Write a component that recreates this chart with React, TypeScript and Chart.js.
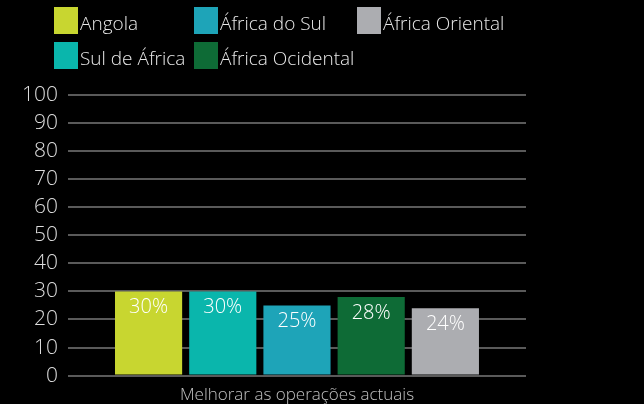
import React, { useEffect, useRef } from "react";
import { Chart, registerables } from "chart.js";

Chart.register(...registerables);

const categories = ["Melhorar as operações actuais"];
const seriesNames = ["Angola", "Sul de África", "África do Sul", "África Ocidental", "África Oriental"];
const seriesValues = [[30], [30], [25], [28], [24]];
const seriesColors = ["#c8d630", "#0ab6ac", "#1ea4b8", "#0e6b36", "#acadb1"];
const yTicks = { min: 0, max: 100, step: 10 };

const FONT = "'Open Sans', 'DejaVu Sans', sans-serif";

const legendPlugin = {
  id: "colLegend",
  afterDraw(chart: any) {
    const ctx = chart.ctx;
    const cols = [54, 194, 357];
    const rows = [7, 42];
    ctx.save();
    ctx.font = `300 19px ${FONT}`;
    ctx.textBaseline = "middle";
    ctx.textAlign = "left";
    chart.data.datasets.forEach((ds: any, i: number) => {
      const x = cols[Math.floor(i / 2)];
      const y = rows[i % 2];
      ctx.fillStyle = ds.backgroundColor;
      ctx.fillRect(x, y, 24, 27);
      ctx.fillStyle = "#e8e8e8";
      ctx.fillText(ds.label, x + 26, y + 18);
    });
    ctx.restore();
  },
};

const labelPlugin = {
  id: "barLabels",
  afterDatasetsDraw(chart: any) {
    const ctx = chart.ctx;
    ctx.save();
    ctx.font = `300 20px ${FONT}`;
    ctx.fillStyle = "#ffffff";
    ctx.textAlign = "center";
    ctx.textBaseline = "middle";
    chart.data.datasets.forEach((ds: any, i: number) => {
      const meta = chart.getDatasetMeta(i);
      meta.data.forEach((bar: any, j: number) => {
        ctx.fillText(ds.data[j] + "%", bar.x, bar.y + 16);
      });
    });
    ctx.restore();
  },
};

export default function App() {
  const ref = useRef<HTMLCanvasElement>(null);
  useEffect(() => {
    document.body.style.margin = "0";
    document.body.style.background = "#000";
    const chart = new Chart(ref.current!, {
      type: "bar",
      data: {
        labels: categories,
        datasets: seriesNames.map((name, i) => ({
          label: name,
          data: seriesValues[i],
          backgroundColor: seriesColors[i],
          borderWidth: 0,
          categoryPercentage: 0.81,
          barPercentage: 0.905,
        })),
      },
      options: {
        animation: false,
        responsive: false,
        maintainAspectRatio: false,
        layout: { padding: { top: 95, left: 12, right: 118, bottom: -2 } },
        plugins: {
          legend: { display: false },
          tooltip: { enabled: false },
        },
        scales: {
          x: {
            grid: { display: false },
            border: { display: false },
            ticks: { color: "#c0c0c0", font: { family: FONT, size: 17, weight: "300" as any }, padding: 1 },
          },
          y: {
            min: yTicks.min,
            max: yTicks.max,
            ticks: {
              stepSize: yTicks.step,
              autoSkip: false,
              color: "#dcdcdc",
              font: { family: FONT, size: 21, weight: "300" as any },
              padding: 10,
            },
            grid: { color: "#5a5a5a", lineWidth: 2, drawTicks: false },
            border: { display: false },
          },
        },
      },
      plugins: [legendPlugin, labelPlugin],
    });
    return () => chart.destroy();
  }, []);
  return (
    <div style={{ width: 644, height: 404, background: "#000" }}>
      <canvas ref={ref} width={644} height={404} style={{ display: "block" }} />
    </div>
  );
}
